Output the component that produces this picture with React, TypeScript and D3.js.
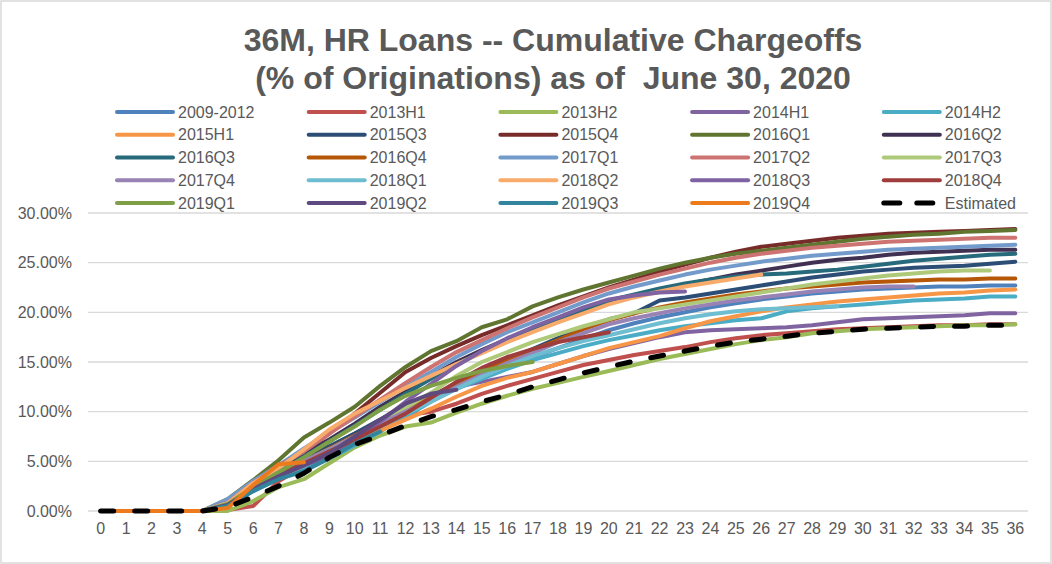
import React, { useEffect } from 'react';
import * as d3 from 'd3';

const titleLines = ['36M, HR Loans -- Cumulative Chargeoffs', '(% of Originations) as of  June 30, 2020'];
const monthLabels = ['0','1','2','3','4','5','6','7','8','9','10','11','12','13','14','15','16','17','18','19','20','21','22','23','24','25','26','27','28','29','30','31','32','33','34','35','36'];
const yTicks = [0, 5, 10, 15, 20, 25, 30];

const s2009_2012 = [0,0,0,0,0,1.0,2.8,4.2,5.3,6.5,7.8,9.0,10.2,11.3,12.4,13.4,14.5,15.5,16.4,17.3,18.2,18.9,19.5,20.0,20.5,20.9,21.3,21.6,21.9,22.1,22.3,22.4,22.5,22.6,22.6,22.7,22.7];
const s2013H1 = [0,0,0,0,0,0.1,0.5,3.0,4.5,5.8,7.0,8.3,9.6,10.0,10.8,11.8,12.6,13.3,14.0,14.7,15.2,15.7,16.1,16.5,17.0,17.4,17.7,17.9,18.1,18.3,18.4,18.5,18.6,18.7,18.7,18.8,18.8];
const s2013H2 = [0,0,0,0,0,0,1.0,2.4,3.2,4.8,6.4,7.6,8.5,8.9,9.9,10.8,11.6,12.3,12.9,13.5,14.1,14.7,15.3,15.8,16.3,16.8,17.2,17.5,17.9,18.1,18.3,18.4,18.5,18.6,18.7,18.7,18.8];
const s2014H1 = [0,0,0,0,0,0.5,2.0,3.5,4.8,5.5,7.0,8.5,10.0,11.5,12.5,13.0,13.5,14.0,14.8,15.6,16.3,16.9,17.5,18.0,18.2,18.3,18.4,18.5,18.7,19.0,19.3,19.4,19.5,19.6,19.7,19.9,19.9];
const s2014H2 = [0,0,0,0,0,0.8,2.0,3.3,4.3,5.3,6.6,8.0,9.5,11.0,12.3,13.3,14.3,15.2,15.9,16.6,17.2,17.7,18.2,18.6,18.9,19.2,19.4,20.1,20.4,20.6,20.8,21.0,21.2,21.3,21.4,21.6,21.6];
const s2015H1 = [0,0,0,0,0,0.5,2.2,3.5,4.6,5.8,7.0,8.1,9.2,10.3,11.5,12.6,13.4,14.0,14.8,15.6,16.4,17.0,17.6,18.4,19.1,19.6,20.1,20.5,20.8,21.1,21.3,21.5,21.7,21.9,22.0,22.2,22.3];
const s2015Q3 = [0,0,0,0,0,0.8,2.6,4.0,5.3,6.5,7.8,9.2,10.5,11.6,12.8,14.0,15.2,16.3,17.4,18.4,19.3,19.9,21.2,21.5,21.9,22.3,22.7,23.1,23.5,23.8,24.1,24.3,24.5,24.6,24.7,24.9,25.1];
const s2015Q4 = [0,0,0,0,0,0.5,2.5,4.3,6.0,7.8,9.8,11.9,14.0,15.4,16.6,17.7,18.7,19.7,20.7,21.6,22.5,23.3,24.1,24.8,25.5,26.1,26.6,26.9,27.2,27.5,27.7,27.9,28.0,28.1,28.2,28.3,28.4];
const s2016Q1 = [0,0,0,0,0,1.2,3.1,5.1,7.4,8.9,10.5,12.6,14.5,16.1,17.1,18.5,19.3,20.6,21.5,22.3,23.0,23.7,24.4,25.0,25.5,25.9,26.2,26.5,26.8,27.1,27.4,27.6,27.8,27.9,28.1,28.2,28.3];
const s2016Q2 = [0,0,0,0,0,0.8,2.8,4.2,5.8,7.2,8.8,10.5,12.0,13.6,15.0,16.2,17.3,18.3,19.3,20.2,21.0,21.6,22.2,22.8,23.3,23.8,24.2,24.6,25.0,25.3,25.5,25.8,26.0,26.1,26.2,26.3,26.3];
const s2016Q3 = [0,0,0,0,0,1.0,2.5,4.0,5.5,7.0,8.6,10.2,11.8,13.3,14.8,16.0,17.2,18.3,19.4,20.3,21.2,21.8,22.4,22.9,23.3,23.6,23.8,23.9,24.1,24.3,24.6,24.9,25.2,25.4,25.6,25.8,25.9];
const s2016Q4 = [0,0,0,0,0,0.6,2.3,3.8,5.0,6.3,7.6,8.9,10.2,11.5,12.8,14.0,15.1,16.2,17.2,18.3,19.2,19.9,20.5,21.0,21.4,21.8,22.1,22.4,22.6,22.8,23.0,23.1,23.2,23.3,23.3,23.4,23.4];
const s2017Q1 = [0,0,0,0,0,1.2,3.0,4.6,6.3,7.9,9.4,11.0,12.5,14.0,15.5,16.8,18.0,19.0,20.0,21.0,21.9,22.6,23.2,23.8,24.3,24.7,25.1,25.4,25.7,25.9,26.1,26.3,26.4,26.5,26.6,26.7,26.8];
const s2017Q2 = [0,0,0,0,0,0.8,2.8,4.5,6.0,7.8,9.5,11.2,12.9,14.5,16.0,17.2,18.4,19.5,20.5,21.5,22.4,23.1,23.8,24.4,25.0,25.5,25.9,26.2,26.5,26.7,26.9,27.1,27.2,27.3,27.4,27.5,27.5];
const s2017Q3 = [0,0,0,0,0,0.7,2.4,3.8,5.0,6.2,7.5,8.9,10.4,11.9,13.6,15.0,16.0,17.0,17.8,18.6,19.3,20.0,20.4,20.8,21.2,21.6,22.0,22.4,22.8,23.1,23.4,23.7,23.9,24.1,24.2,24.2];
const s2017Q4 = [0,0,0,0,0,0.9,2.6,3.9,5.0,6.2,7.5,8.8,10.0,11.2,12.5,13.7,14.9,15.9,17.0,17.9,18.8,19.4,19.9,20.4,20.8,21.2,21.5,21.8,22.1,22.3,22.5,22.6,22.6];
const s2018Q1 = [0,0,0,0,0,0.8,2.4,3.6,4.8,6.0,7.2,8.5,9.8,11.0,12.3,13.5,14.6,15.6,16.4,17.1,17.7,18.3,18.9,19.4,19.8,20.1,20.3,20.4,20.5,20.6];
const s2018Q2 = [0,0,0,0,0,0.8,2.8,4.3,6.2,8.2,9.8,11.1,12.4,13.6,14.8,15.9,17.0,18.0,19.0,19.9,20.8,21.5,22.1,22.6,23.0,23.4,23.8];
const s2018Q3 = [0,0,0,0,0,0.5,2.2,3.6,4.6,5.5,7.2,9.0,11.0,12.8,14.6,16.1,17.4,18.5,19.5,20.5,21.3,21.7,22.0,22.1];
const s2018Q4 = [0,0,0,0,0,0.6,2.3,3.6,4.8,6.0,7.2,8.5,9.8,11.4,13.0,14.4,15.5,16.3,17.0,17.5,18.0];
const s2019Q1 = [0,0,0,0,0,0.7,2.4,3.9,5.4,7.0,8.5,10.2,11.6,12.6,13.4,14.1,14.6,15.0];
const s2019Q2 = [0,0,0,0,0,0.6,2.2,3.5,4.6,5.8,7.5,9.2,10.8,11.8,12.2];
const s2019Q3 = [0,0,0,0,0,0.5,2.0,3.2,4.0,5.3,6.8,8.0];
const s2019Q4 = [0,0,0,0,0,0.3,2.6,4.7,4.9];
const estimated = [0,0,0,0,0,0.4,1.4,2.5,3.8,5.4,6.7,7.6,8.6,9.5,10.2,11.0,11.7,12.5,13.2,13.9,14.5,15.1,15.6,16.1,16.6,17.0,17.3,17.6,17.9,18.1,18.3,18.4,18.5,18.6,18.6,18.7,18.7];

const seriesNames = ['2009-2012','2013H1','2013H2','2014H1','2014H2','2015H1','2015Q3','2015Q4','2016Q1','2016Q2','2016Q3','2016Q4','2017Q1','2017Q2','2017Q3','2017Q4','2018Q1','2018Q2','2018Q3','2018Q4','2019Q1','2019Q2','2019Q3','2019Q4','Estimated'];
const seriesValues = [s2009_2012,s2013H1,s2013H2,s2014H1,s2014H2,s2015H1,s2015Q3,s2015Q4,s2016Q1,s2016Q2,s2016Q3,s2016Q4,s2017Q1,s2017Q2,s2017Q3,s2017Q4,s2018Q1,s2018Q2,s2018Q3,s2018Q4,s2019Q1,s2019Q2,s2019Q3,s2019Q4,estimated];
const seriesColors = ['#4F81BD','#C0504D','#9BBB59','#8064A2','#4BACC6','#F79646','#2C4D75','#772C2A','#5F7530','#403152','#276A7C','#B65708','#729ACA','#CD7371','#AFC97A','#9983B5','#6FBDD1','#F9AB6B','#7E62A2','#9E3D3B','#7E9F45','#5E4A7E','#31859C','#EE7A1E','#000000'];

const W = 1052, H = 564;
const FONT = '"Liberation Sans", Arial, sans-serif';
const TXT = '#595959';

export default function App() {
  useEffect(() => {
    document.body.style.margin = '0';
  }, []);

  const x = d3.scaleBand<string>().domain(monthLabels).range([88, 1028]);
  const xc = (i: number) => (x(monthLabels[i]) as number) + x.bandwidth() / 2;
  const y = d3.scaleLinear().domain([0, 30]).range([511, 213]);
  const line = d3.line<number>().x((_, i) => xc(i)).y((d) => y(d));

  const legCols = 5;
  const legX0 = 117, legDx = 191.7, legY0 = 112, legDy = 22.75;

  return (
    <svg width={W} height={H} style={{ display: 'block', background: '#fff' }} fontFamily={FONT}>
      <rect x={1} y={1} width={W - 2} height={H - 2} fill="#fff" stroke="#d9d9d9" strokeWidth={1.5} />
      {titleLines.map((t, i) => (
        <text key={t} x={553} y={51 + i * 38} textAnchor="middle" fontSize={32} fontWeight="bold" fill={TXT} style={{ whiteSpace: 'pre' }}>{t}</text>
      ))}
      {yTicks.map((v) => (
        <g key={v}>
          <line x1={88} x2={1028} y1={y(v)} y2={y(v)} stroke="#d9d9d9" strokeWidth={1.3} />
          <text x={72} y={y(v) + 5.5} textAnchor="end" fontSize={16} fill={TXT}>{v.toFixed(2)}%</text>
        </g>
      ))}
      {monthLabels.map((m, i) => (
        <text key={m} x={xc(i)} y={534} textAnchor="middle" fontSize={16} fill={TXT}>{m}</text>
      ))}
      {seriesValues.map((vals, k) => (
        <path key={seriesNames[k]} d={line(vals) || ''} fill="none" stroke={seriesColors[k]}
          strokeWidth={k === 24 ? 5 : 4} strokeLinejoin="round" strokeLinecap="round"
          strokeDasharray={k === 24 ? '13 21' : undefined} />
      ))}
      {seriesNames.map((n, k) => {
        const col = k % legCols, row = Math.floor(k / legCols);
        const lx = legX0 + col * legDx, ly = legY0 + row * legDy;
        return (
          <g key={n}>
            <line x1={lx} x2={lx + 56} y1={ly} y2={ly} stroke={seriesColors[k]} strokeWidth={k === 24 ? 5 : 4}
              strokeLinecap="round" strokeDasharray={k === 24 ? '16 17' : undefined} />
            <text x={lx + 61} y={ly + 5.5} fontSize={16} fill={TXT}>{n}</text>
          </g>
        );
      })}
    </svg>
  );
}
